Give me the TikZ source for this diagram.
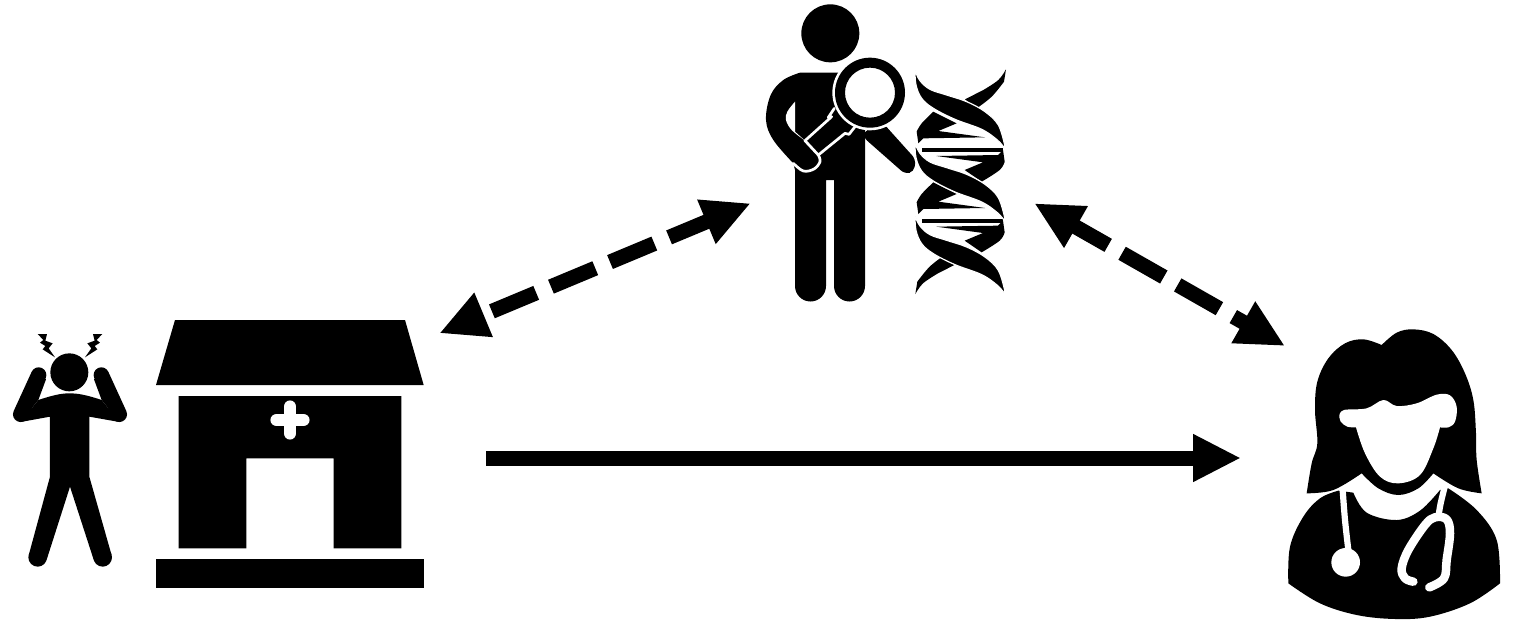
\documentclass[tikz,border=0pt]{standalone}
\usetikzlibrary{arrows.meta}
\tikzset{
  bigtip/.tip={Triangle[length=48pt,width=44.5pt]},
  link/.style={line width=15pt,black},
  dashlink/.style={link,dash pattern=on 48pt off 16pt},
  icon/.style={shift={#1},scale=1/3},
  cut/.style={white,line width=2.7pt,line join=round,line cap=round},
  tube/.style={white,line width=6.2pt,line cap=round,line join=round},
  looptube/.style={white,line width=8.5pt,line cap=round,line join=round},
  sm/.style={smooth,tension=.6}
}
\begin{document}
\begin{tikzpicture}[x=1pt,y=-1pt]
\useasboundingbox (0,0) rectangle (1516,622);
% ---------- headache person
\begin{scope}[icon={(0,320)}]
  \fill (208,157) circle (57);
  \draw[line width=15.4pt,line cap=round] (116,165) -- (62,283);
  \draw[line width=15.4pt,line cap=round] (304,165) -- (358,283);
  \fill (138,178) -- (115,240) -- (62,306) -- (62,283) -- (116,165) -- cycle;
  \fill (282,178) -- (305,240) -- (358,306) -- (358,283) -- (304,165) -- cycle;
  \fill (115,240) .. controls (160,225) and (185,220) .. (208,220) .. controls (235,220) and (260,225) .. (305,240)
     -- (358,306) -- (268,290) -- (268,470) -- (335,706) -- (281,719) -- (210,500) -- (140,719) -- (86,706)
     -- (150,470) -- (150,290) -- (62,306) -- cycle;
  \fill (113,712) circle (28);
  \fill (308,712) circle (28);
  \foreach \s/\o in {1/0,-1/420}{
    \begin{scope}[xshift=\o*1pt,xscale=\s]
      \fill (113,42) -- (141,42) -- (136,62) -- (158,70) -- (146,85) -- (165,112) -- (128,88) -- (136,78) -- (120,68) -- (130,60) -- cycle;
    \end{scope}}
\end{scope}
% ---------- clinic
\begin{scope}[icon={(145,310)}]
  \fill (90,30) -- (780,30) -- (836,225) -- (33,225) -- cycle;
  \fill (101,258) -- (769,258) -- (769,715) -- (566,715) -- (566,445) -- (304,445) -- (304,715) -- (101,715) -- cycle;
  \fill (33,747) rectangle (837,834);
  \draw[white,line width=12.5pt,line cap=round] (395,330) -- (475,330);
  \draw[white,line width=12.5pt,line cap=round] (435,290) -- (435,370);
\end{scope}
% ---------- researcher
\begin{scope}[icon={(750,0)}]
  \fill (241,100) circle (87);
  \fill (150,218) -- (345,218) -- (345,858) arc[start angle=0,end angle=180,radius=46.5]
     -- (252,540) -- (228,540) -- (228,858) arc[start angle=0,end angle=180,radius=46.5]
     -- (135,505) -- plot[sm] coordinates {(130,490)(70,420)(48,360)(62,285)(100,240)(150,218)} -- cycle;
  \fill[white] plot[sm] coordinates {(135,305)(112,335)(108,360)(125,390)(165,422)} -- (135,395) -- cycle;
  \fill[rounded corners=5pt] (340,395) -- (400,370) -- (497,478) -- (492,515) -- (465,522) -- (340,412) -- cycle;
  \fill (130,490) -- (165,420) -- (208,465) -- (208,490) -- (175,515) -- (135,510) -- cycle;
  \draw[cut] (253,325) -- (235,352) -- (245,350) -- (165,422) -- (205,465);
  \draw[cut] plot[sm] coordinates {(205,465)(210,485)(192,507)(160,513)(130,490)};
  \draw[cut] (205,465) -- (285,400) -- (297,403) -- (315,380);
  \fill[white] (360,278) circle (113);
  \fill[even odd rule] (360,278) circle (105) (360,278) circle (75);
  % DNA, strands behind
  \fill (768,208) -- plot[sm] coordinates {(762,245)(725,290)(680,325)} -- (645,298) -- plot[sm] coordinates {(700,270)(745,240)(768,208)} -- cycle;
  \fill (496,882) -- plot[sm] coordinates {(502,845)(539,800)(584,765)} -- (619,792) -- plot[sm] coordinates {(564,820)(519,850)(496,882)} -- cycle;
  \foreach \d in {0,212}{
    \begin{scope}[yshift=-\d*1pt]
      \fill (550,335) -- (620,370) -- (565,393) -- (705,412) -- (520,415) -- (505,430) -- plot[sm] coordinates {(500,395)(515,370)(550,335)} -- cycle;
      \fill (516,444) rectangle (760,456);
      \fill (695,545) -- (644,510) -- (699,487) -- (559,468) -- (744,465) -- (759,450) -- plot[sm] coordinates {(764,485)(749,510)(695,545)} -- cycle;
    \end{scope}}
  % DNA, strands in front
  \foreach \d in {0,218,436}{
    \begin{scope}[yshift=-\d*1pt]
      \filldraw[draw=white,line width=1.2pt,line join=round] plot[sm] coordinates {(495,212)(510,242)(540,268)(590,285)(650,305)(705,335)(745,375)(764,435)}
        -- plot[sm] coordinates {(764,445)(742,420)(695,388)(615,358)(550,325)(515,295)(498,255)(495,212)} -- cycle;
    \end{scope}}
\end{scope}
% ---------- doctor
\begin{scope}[icon={(1270,320)}]
  \fill plot[sm] coordinates {(335,75)(380,38)(430,28)(490,42)(545,90)(585,160)(610,240)(618,340)(620,420)(635,520)}
    -- plot[sm] coordinates {(635,520)(565,505)(490,460)}
    -- plot[sm] coordinates {(490,460)(445,505)(385,525)(325,505)(275,460)}
    -- plot[sm] coordinates {(275,460)(190,510)(110,520)}
    -- plot[sm] coordinates {(110,520)(125,430)(142,370)(135,270)(142,185)(175,115)(225,70)(280,58)(335,75)} -- cycle;
  \fill[white] plot[sm] coordinates {(208,287)(222,270)(290,265)(340,240)(380,258)(440,250)(500,224)(540,226)(560,260)(555,305)(535,322)(510,322)}
    -- plot[sm] coordinates {(510,322)(490,385)(450,465)(385,490)(330,470)(285,400)(258,322)}
    -- plot[sm] coordinates {(258,322)(232,320)(212,305)(208,287)} -- cycle;
  \fill plot[sm] coordinates {(55,790)(60,680)(100,590)(150,535)(205,512)}
    -- (250,518) -- plot[sm] coordinates {(250,518)(290,578)(380,600)(450,572)(510,510)}
    -- plot[sm] coordinates {(535,505)(620,570)(680,660)(690,790)}
    -- plot[sm] coordinates {(690,790)(600,850)(480,890)(375,897)(260,885)(150,850)(55,790)} -- cycle;
  \draw[tube] plot[sm] coordinates {(218,510)(225,600)(235,690)};
  \fill[white] (227,727) circle (43);
  \draw[tube] plot[sm] coordinates {(523,505)(512,550)(505,590)};
  \draw[looptube] plot[sm] coordinates {(430,785)(405,775)(395,745)(415,690)(465,615)(495,592)(530,598)(540,640)(530,720)(522,775)(478,802)};
\end{scope}
% ---------- connectors
\coordinate (cl) at (486,458);
\coordinate (dr) at (1241,458);
\coordinate (cu) at (439.3,333.3);
\coordinate (ru) at (750.7,203.3);
\coordinate (rd) at (1034.3,203.3);
\coordinate (du) at (1285,346);
\draw[link,-{bigtip}] (cl) -- (dr);
\draw[dashlink,dash phase=52pt,{bigtip}-{bigtip}] (cu) -- (ru);
\draw[dashlink,dash phase=8pt,{bigtip}-{bigtip}] (rd) -- (du);
\end{tikzpicture}
\end{document}
